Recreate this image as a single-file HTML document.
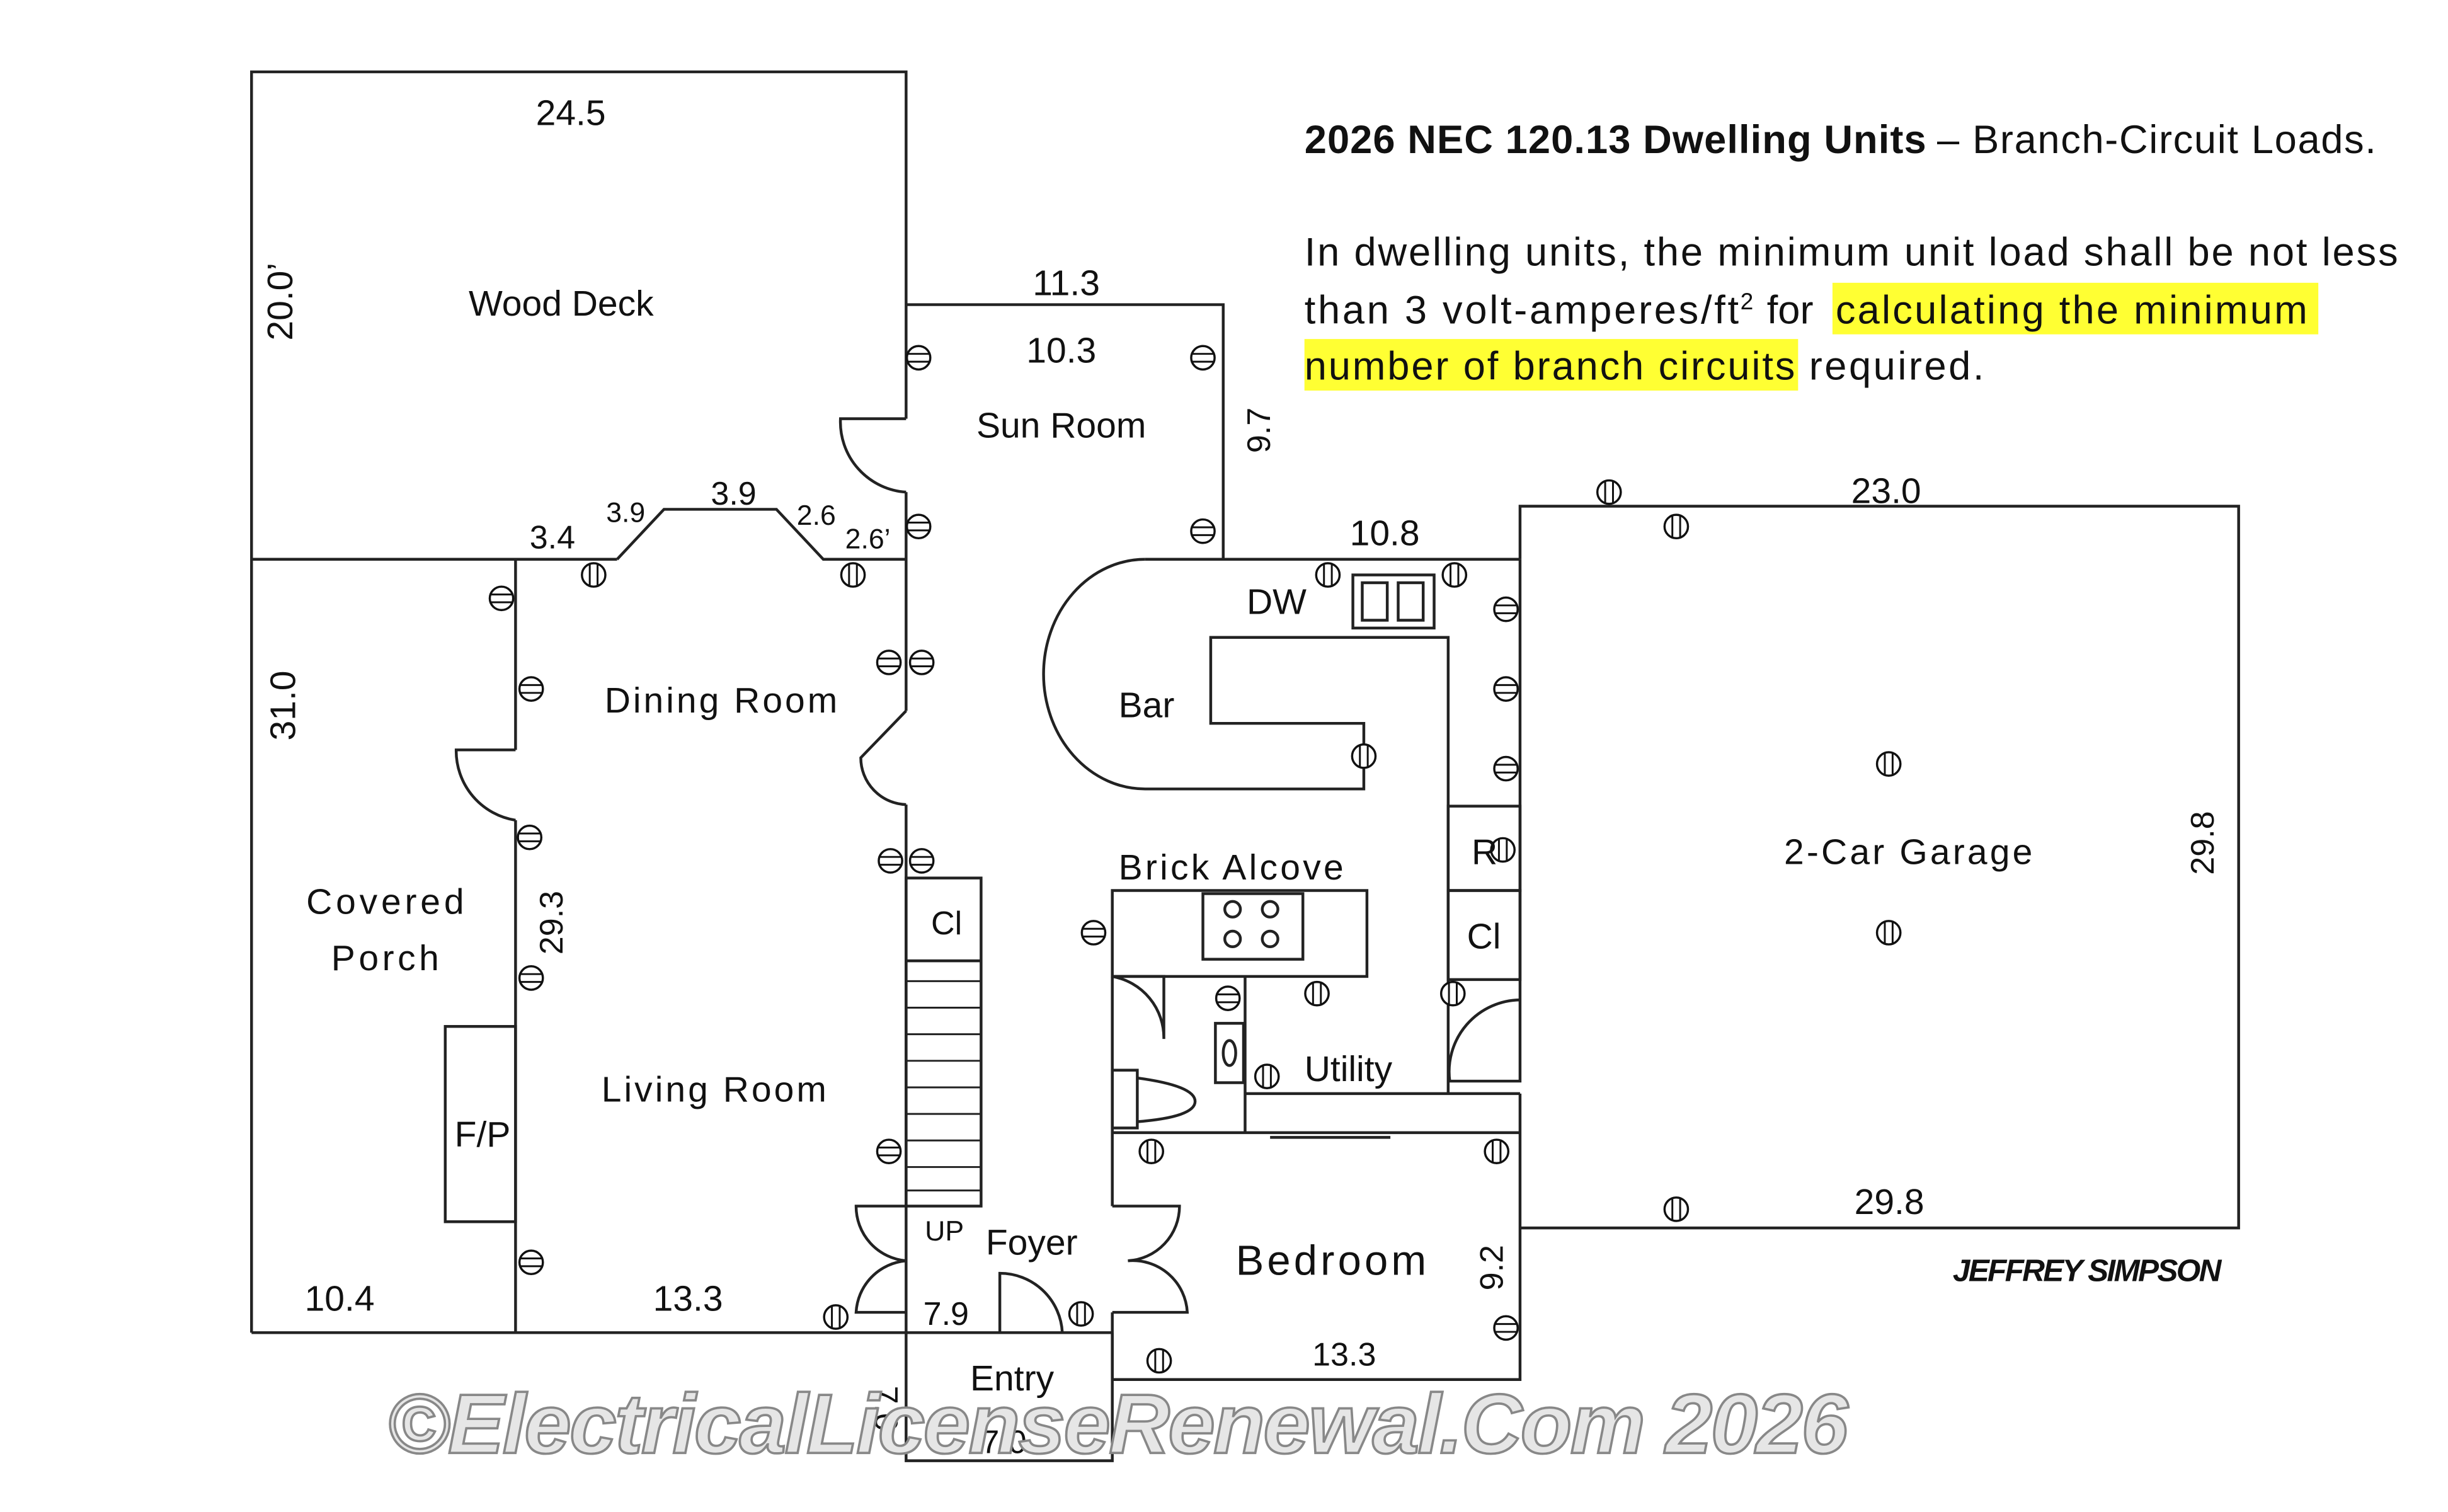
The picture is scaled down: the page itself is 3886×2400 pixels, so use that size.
<!DOCTYPE html>
<html><head><meta charset="utf-8"><style>
html,body{margin:0;padding:0;background:#fff}
svg{display:block}
text{font-family:"Liberation Sans","DejaVu Sans",sans-serif;fill:#111}
</style></head><body>
<svg width="3886" height="2400" viewBox="0 0 1567 967.8" xmlns="http://www.w3.org/2000/svg">
<defs>
<g id="o"><circle cx="0" cy="0" r="7.5" fill="#fff" stroke="#111" stroke-width="1.4"/><line x1="-2.5" y1="-7.5" x2="-2.5" y2="7.5" stroke="#111" stroke-width="1.2"/><line x1="2.5" y1="-7.5" x2="2.5" y2="7.5" stroke="#111" stroke-width="1.2"/></g>
<g id="oh"><circle cx="0" cy="0" r="7.5" fill="#fff" stroke="#111" stroke-width="1.4"/><line x1="-7.5" y1="-2.5" x2="7.5" y2="-2.5" stroke="#111" stroke-width="1.2"/><line x1="-7.5" y1="2.5" x2="7.5" y2="2.5" stroke="#111" stroke-width="1.2"/></g>
</defs>
<g fill="none" stroke="#222" stroke-width="1.8">
<polyline points="161,853 161,46 580,46 580,268"/>
<line x1="161" y1="358" x2="395" y2="358"/>
<polyline points="395,358 425,326 497,326 527,358 580,358"/>
<line x1="580" y1="315" x2="580" y2="455"/>
<line x1="580" y1="515" x2="580" y2="853"/>
<path d="M580,268 L538,268 A45,45 0 0 0 580,315"/>
<path d="M580,455 L551,485 A30,30 0 0 0 580,515"/>
<polyline points="580,195 783,195 783,358"/>
<line x1="330" y1="358" x2="330" y2="480"/>
<line x1="330" y1="525" x2="330" y2="853"/>
<path d="M330,480 L292,480 A45,45 0 0 0 330,525"/>
<rect x="285" y="657" width="45" height="125"/>
<line x1="161" y1="853" x2="712" y2="853"/>
<rect x="580" y="562" width="48" height="210"/>
<line x1="580" y1="615" x2="628" y2="615"/>
<g stroke-width="1.2"><line x1="580" y1="628" x2="628" y2="628"/><line x1="580" y1="645" x2="628" y2="645"/><line x1="580" y1="662" x2="628" y2="662"/><line x1="580" y1="679" x2="628" y2="679"/><line x1="580" y1="696" x2="628" y2="696"/><line x1="580" y1="713" x2="628" y2="713"/><line x1="580" y1="730" x2="628" y2="730"/><line x1="580" y1="747" x2="628" y2="747"/><line x1="580" y1="762" x2="628" y2="762"/></g>
<path d="M580,772 L548,772 A35,35 0 0 0 580,807 A35,35 0 0 0 548,840 L580,840"/>
<path d="M712,772 L755,772 A35,35 0 0 1 722,807 A35,35 0 0 1 760,840 L712,840"/>
<path d="M640,853 L640,815 A40,40 0 0 1 680,853"/>
<polyline points="580,853 580,935 712,935 712,853"/>
<line x1="712" y1="840" x2="712" y2="883"/>
<line x1="733" y1="358" x2="973" y2="358"/>
<path d="M733,358 A65,73.5 0 0 0 733,505 L873,505 L873,463 L775,463 L775,408 L927,408 L927,700"/>
<rect x="866" y="368" width="52" height="34"/>
<rect x="872" y="373" width="16" height="24"/><rect x="895" y="373" width="16" height="24"/>
<rect x="927" y="516" width="46" height="54"/>
<rect x="927" y="570" width="46" height="57"/>
<rect x="712" y="570" width="163" height="55"/>
<rect x="770" y="572" width="64" height="42"/>
<circle cx="789" cy="582" r="5"/><circle cx="813" cy="582" r="5"/><circle cx="789" cy="601" r="5"/><circle cx="813" cy="601" r="5"/>
<line x1="712" y1="625" x2="712" y2="772"/>
<path d="M712,625 L745,625 L745,665 A40,40 0 0 0 712,625"/>
<line x1="797" y1="625" x2="797" y2="725"/>
<rect x="778" y="655" width="18" height="38"/>
<ellipse cx="787" cy="674" rx="4" ry="8"/>
<rect x="712" y="685" width="16" height="37"/>
<path d="M728,690 Q765,695 765,705 Q765,715 728,718"/>
<line x1="797" y1="700" x2="973" y2="700"/>
<line x1="813" y1="728" x2="890" y2="728"/>
<line x1="712" y1="725" x2="973" y2="725"/>
<path d="M973,627 L973,692 L928,692 A46,46 0 0 1 973,640"/>
<polyline points="973,700 973,883 712,883"/>
<polyline points="973,358 973,324 1433,324 1433,786 973,786"/>
<line x1="973" y1="358" x2="973" y2="627"/>
</g>
<g>
<use href="#oh" x="588" y="229"/><use href="#oh" x="770" y="229"/><use href="#oh" x="588" y="337"/><use href="#oh" x="770" y="340"/>
<use href="#o" x="380" y="368"/><use href="#o" x="546" y="368"/><use href="#oh" x="321" y="383"/><use href="#oh" x="340" y="441"/>
<use href="#oh" x="569" y="424"/><use href="#oh" x="590" y="424"/><use href="#oh" x="339" y="536"/><use href="#oh" x="570" y="551"/><use href="#oh" x="590" y="551"/>
<use href="#oh" x="340" y="626"/><use href="#oh" x="569" y="737"/><use href="#oh" x="340" y="808"/><use href="#o" x="535" y="843"/><use href="#o" x="692" y="841"/>
<use href="#oh" x="700" y="597"/><use href="#oh" x="786" y="639"/><use href="#o" x="843" y="636"/><use href="#o" x="930" y="636"/><use href="#o" x="811" y="689"/>
<use href="#o" x="737" y="737"/><use href="#o" x="958" y="737"/><use href="#oh" x="964" y="850"/><use href="#o" x="742" y="871"/>
<use href="#o" x="850" y="368"/><use href="#o" x="931" y="368"/><use href="#oh" x="964" y="390"/><use href="#oh" x="964" y="441"/><use href="#oh" x="964" y="492"/>
<use href="#o" x="873" y="484"/><use href="#o" x="962" y="544"/><use href="#o" x="1030" y="315"/><use href="#o" x="1073" y="337"/>
<use href="#o" x="1209" y="489"/><use href="#o" x="1209" y="597"/><use href="#o" x="1073" y="774"/>
</g>
<g font-size="23">
<text x="343" y="80">24.5</text>
<text x="300" y="202">Wood Deck</text>
<text x="661" y="189">11.3</text>
<text x="657" y="232">10.3</text>
<text x="625" y="280">Sun Room</text>
<text x="339" y="351" font-size="21">3.4</text>
<text x="388" y="334" font-size="18">3.9</text>
<text x="455" y="323" font-size="21">3.9</text>
<text x="510" y="336" font-size="18">2.6</text>
<text x="541" y="351" font-size="18">2.6’</text>
<text x="864" y="349">10.8</text>
<text x="1185" y="322">23.0</text>
<text x="798" y="393">DW</text>
<text x="387" y="456" textLength="149">Dining Room</text>
<text x="716" y="459">Bar</text>
<text x="716" y="563" textLength="144">Brick Alcove</text>
<text x="1142" y="553" textLength="159">2-Car Garage</text>
<text x="942" y="553">R</text>
<text x="939" y="607">Cl</text>
<text x="596" y="598" font-size="21">Cl</text>
<text x="196" y="585" textLength="101">Covered</text>
<text x="212" y="621" textLength="69">Porch</text>
<text x="291" y="734">F/P</text>
<text x="385" y="705" textLength="144">Living Room</text>
<text x="835" y="692">Utility</text>
<text x="592" y="794" font-size="18">UP</text>
<text x="631" y="803">Foyer</text>
<text x="791" y="816" font-size="27" textLength="122">Bedroom</text>
<text x="1187" y="777">29.8</text>
<text x="195" y="839">10.4</text>
<text x="418" y="839">13.3</text>
<text x="591" y="848" font-size="21">7.9</text>
<text x="840" y="874" font-size="21">13.3</text>
<text x="621" y="890">Entry</text>
<text x="628" y="930" font-size="21">7.0</text>
<text transform="translate(187,218) rotate(-90)">20.0’</text>
<text transform="translate(189,474) rotate(-90)">31.0</text>
<text transform="translate(360,611) rotate(-90)" font-size="21">29.3</text>
<text transform="translate(813,290) rotate(-90)" font-size="21">9.7</text>
<text transform="translate(1417,560) rotate(-90)" font-size="21">29.8</text>
<text transform="translate(962,826) rotate(-90)" font-size="21">9.2</text>
<text transform="translate(560,887) rotate(90)" font-size="21">7.0</text>
</g>
<text x="1250" y="820" font-size="20" font-style="italic" font-weight="bold" font-family="Liberation Serif,serif" textLength="172">JEFFREY SIMPSON</text>
<g font-size="25.5">
<rect x="1173" y="181" width="311" height="33" fill="#ffff33"/>
<rect x="835" y="217" width="316" height="33" fill="#ffff33"/>
<text x="835" y="98" font-weight="bold" textLength="398">2026 NEC 120.13 Dwelling Units</text>
<text x="1240" y="98" textLength="281">– Branch-Circuit Loads.</text>
<text x="835" y="170" textLength="700">In dwelling units, the minimum unit load shall be not less</text>
<text x="835" y="207" textLength="278">than 3 volt-amperes/ft</text>
<text x="1114" y="198" font-size="15">2</text>
<text x="1131" y="207">for</text>
<text x="1175" y="207" textLength="302">calculating the minimum</text>
<text x="835" y="243" textLength="314">number of branch circuits</text>
<text x="1158" y="243" textLength="112">required.</text>
</g>
<text x="248" y="930" font-size="54" font-style="italic" font-weight="bold" stroke="#888" stroke-width="1.5" style="fill:#e6e6e6" textLength="935">©ElectricalLicenseRenewal.Com 2026</text>
</svg>
</body></html>
